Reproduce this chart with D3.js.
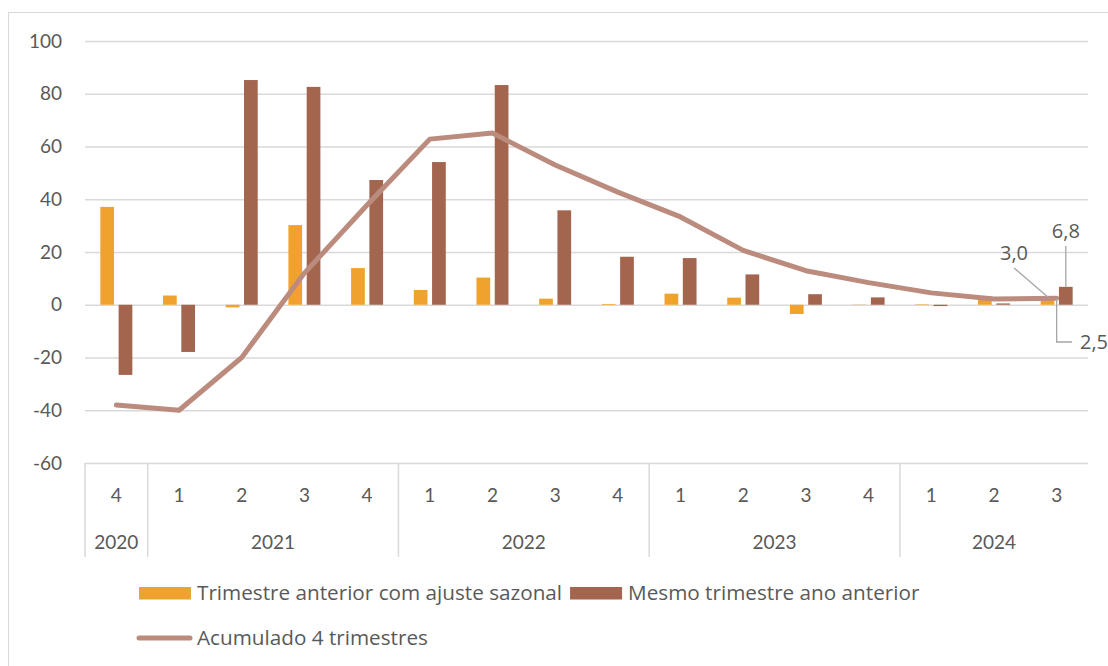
<!DOCTYPE html>
<html>
<head>
<meta charset="utf-8">
<script src="https://cdn.jsdelivr.net/npm/d3@7"></script>
<style>
  body { margin: 0; background: #fff; }
  svg text { font-family: Lato, "Open Sans", sans-serif; fill: #595959; }
  svg text.leg { font-family: "Open Sans", sans-serif; }
</style>
</head>
<body>
<div id="chart"></div>
<script>
// periods (year / quarter)
var anos = ['2020', '2021', '2021', '2021', '2021', '2022', '2022', '2022', '2022',
            '2023', '2023', '2023', '2023', '2024', '2024', '2024'];
var trimestres = ['4', '1', '2', '3', '4', '1', '2', '3', '4', '1', '2', '3', '4', '1', '2', '3'];

// series
var trimAnterior = [37.1, 3.5, -1.0, 30.2, 13.9, 5.6, 10.3, 2.3, 0.3, 4.2, 2.7, -3.5, 0.1, 0.2, 3.3, 3.0];
var mesmoTrim = [-26.6, -17.9, 85.2, 82.6, 47.3, 54.1, 83.3, 35.8, 18.2, 17.7, 11.5, 4.0, 2.8, -0.5, 0.5, 6.8];
var acumulado = [-38.0, -40.0, -20.0, 12.0, 37.8, 62.8, 65.1, 53.0, 42.7, 33.3, 20.6, 12.9, 8.4, 4.5, 2.2, 2.5];

var yTicks = [-60, -40, -20, 0, 20, 40, 60, 80, 100];
var serieNomes = ['Trimestre anterior com ajuste sazonal', 'Mesmo trimestre ano anterior', 'Acumulado 4 trimestres'];
var cores = ['#f0a22e', '#a4654e', '#bb8c7e'];

var width = 1108, height = 666;
var mLeft = 85, mRight = 1088, mTop = 41, mBottom = 463;

var svg = d3.select('#chart').append('svg')
    .attr('width', width)
    .attr('height', height);

// chart border
svg.append('rect')
    .attr('x', 8.5).attr('y', 12.5)
    .attr('width', 1120).attr('height', 660)
    .attr('fill', 'none')
    .attr('stroke', '#d9d9d9');

var idx = d3.range(anos.length);

var x = d3.scaleBand()
    .domain(idx)
    .range([mLeft, mRight])
    .padding(0);

var y = d3.scaleLinear()
    .domain([-60, 100])
    .range([mBottom, mTop]);

// inner scale for the two bar series
var xInner = d3.scaleBand()
    .domain([0, 1])
    .range([x.bandwidth() / 2 - 16, x.bandwidth() / 2 + 16])
    .paddingInner(0.25);

// y axis + gridlines
var yAxis = svg.append('g')
    .attr('transform', 'translate(' + mLeft + ',0)')
    .call(d3.axisLeft(y).tickValues(yTicks).tickFormat(function (d) { return String(d); })
        .tickSize(-(mRight - mLeft)).tickPadding(23));
yAxis.select('.domain').remove();
yAxis.selectAll('line').attr('stroke', '#d9d9d9').attr('stroke-width', 1.5);
yAxis.selectAll('text').style('font-size', '19px').attr('fill', '#595959');

// bars
var series = [trimAnterior, mesmoTrim];
series.forEach(function (vals, s) {
    svg.append('g').selectAll('rect')
        .data(vals)
        .join('rect')
        .attr('x', function (d, i) { return x(i) + xInner(s); })
        .attr('width', xInner.bandwidth())
        .attr('y', function (d) { return y(Math.max(0, d)); })
        .attr('height', function (d) { return Math.abs(y(d) - y(0)); })
        .attr('fill', cores[s]);
});

// line
var line = d3.line()
    .x(function (d, i) { return x(i) + x.bandwidth() / 2; })
    .y(function (d) { return y(d); });

svg.append('path')
    .datum(acumulado)
    .attr('d', line)
    .attr('fill', 'none')
    .attr('stroke', cores[2])
    .attr('stroke-width', 5)
    .attr('stroke-linejoin', 'round')
    .attr('stroke-linecap', 'round');

// category axis (quarters)
var xAxis = svg.append('g')
    .attr('transform', 'translate(0,' + mBottom + ')')
    .call(d3.axisBottom(x).tickSize(0).tickPadding(26).tickFormat(function (i) { return trimestres[i]; }));
xAxis.select('.domain').remove();
xAxis.selectAll('text').style('font-size', '19px').attr('fill', '#595959');

// year groups
var grupos = [];
anos.forEach(function (a, i) {
    var g = grupos[grupos.length - 1];
    if (g && g.ano === a) g.fim = i;
    else grupos.push({ ano: a, ini: i, fim: i });
});

var axisG = svg.append('g');
var bordas = [0].concat(grupos.map(function (g) { return g.fim + 1; }));
axisG.selectAll('.div')
    .data(bordas.slice(0, -1))
    .join('line')
    .attr('x1', function (b) { return x(b); })
    .attr('x2', function (b) { return x(b); })
    .attr('y1', mBottom).attr('y2', 557)
    .attr('stroke', '#d9d9d9').attr('stroke-width', 1.5);

axisG.selectAll('.ano')
    .data(grupos)
    .join('text')
    .attr('x', function (g) { return (x(g.ini) + x(g.fim) + x.bandwidth()) / 2; })
    .attr('y', 542)
    .attr('dy', '0.35em')
    .attr('text-anchor', 'middle')
    .style('font-size', '19px')
    .text(function (g) { return g.ano; });

// data labels for last period
var last = anos.length - 1;
var lx = x(last);
var fmt = function (v) { return d3.format('.1f')(v).replace('.', ','); };
var leader = svg.append('g').attr('stroke', '#a6a6a6').attr('stroke-width', 1.3).attr('fill', 'none');

// orange bar label
var ox = lx + xInner(0) + xInner.bandwidth() / 2;
leader.append('line')
    .attr('x1', 1014).attr('y1', 268)
    .attr('x2', ox).attr('y2', y(trimAnterior[last]));
svg.append('text')
    .attr('class', 'leg')
    .attr('x', 1014).attr('y', 253).attr('dy', '0.35em')
    .attr('text-anchor', 'middle')
    .style('font-size', '20px').attr('fill', '#404040')
    .text(fmt(trimAnterior[last]));

// brown bar label
var bx = lx + xInner(1) + xInner.bandwidth() / 2;
leader.append('line')
    .attr('x1', bx).attr('y1', 246)
    .attr('x2', bx).attr('y2', y(mesmoTrim[last]));
svg.append('text')
    .attr('class', 'leg')
    .attr('x', bx).attr('y', 231).attr('dy', '0.35em')
    .attr('text-anchor', 'middle')
    .style('font-size', '20px').attr('fill', '#404040')
    .text(fmt(mesmoTrim[last]));

// line label
var px = lx + x.bandwidth() / 2;
leader.append('polyline')
    .attr('points', [[px, y(acumulado[last])], [px, 342], [1072, 342]].map(function (p) { return p.join(','); }).join(' '));
svg.append('text')
    .attr('class', 'leg')
    .attr('x', 1080).attr('y', 342).attr('dy', '0.35em')
    .style('font-size', '20px').attr('fill', '#404040')
    .text(fmt(acumulado[last]));

// legend
var leg = svg.append('g');
leg.append('rect')
    .attr('x', 139).attr('y', 587).attr('width', 52).attr('height', 12.5)
    .attr('fill', cores[0]);
var t1 = leg.append('text')
    .attr('class', 'leg')
    .attr('x', 197).attr('y', 593).attr('dy', '0.35em')
    .style('font-size', '20.7px')
    .text(serieNomes[0]);
var x2 = 197 + t1.node().getComputedTextLength() + 8;
leg.append('rect')
    .attr('x', x2).attr('y', 587).attr('width', 52).attr('height', 12.5)
    .attr('fill', cores[1]);
leg.append('text')
    .attr('class', 'leg')
    .attr('x', x2 + 58).attr('y', 593).attr('dy', '0.35em')
    .style('font-size', '20.7px')
    .text(serieNomes[1]);

leg.append('line')
    .attr('x1', 139).attr('x2', 190)
    .attr('y1', 638).attr('y2', 638)
    .attr('stroke', cores[2]).attr('stroke-width', 5)
    .attr('stroke-linecap', 'round');
leg.append('text')
    .attr('class', 'leg')
    .attr('x', 197).attr('y', 638).attr('dy', '0.35em')
    .style('font-size', '20.7px')
    .text(serieNomes[2]);
</script>
</body>
</html>
